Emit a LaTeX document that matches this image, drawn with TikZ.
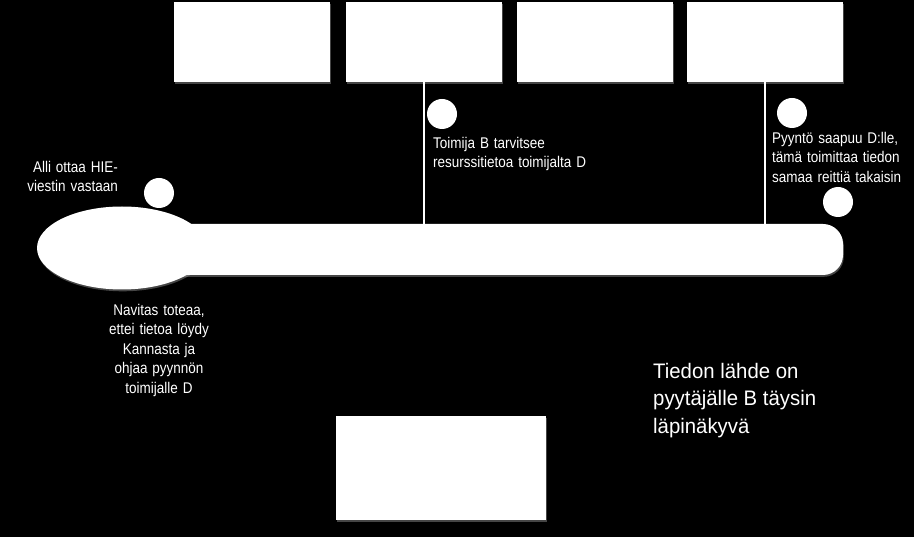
\documentclass[tikz,border=0pt]{standalone}
\usepackage{fontspec}
\setmainfont{Liberation Sans}
\newfontfamily\narrowf[FakeStretch=0.87,WordSpace=1.3]{Liberation Sans}
\newfontfamily\bigf[FakeStretch=0.97]{Liberation Sans}
\usetikzlibrary{shapes.geometric}
\begin{document}
\begin{tikzpicture}[x=1pt,y=-1pt,
  shade/.style={fill=gray!80,opacity=0.45,shift={(0.8,1.8)}},
  whitebox/.style={draw=none,fill=white,rectangle,inner sep=0pt},
  dot/.style={draw=none,fill=white,circle,minimum size=30pt,inner sep=0pt},
  link/.style={draw=white,line width=1.6pt},
  smalltext/.style={text=white,inner sep=0pt,font=\narrowf\fontsize{15.5}{19.5}\selectfont},
  bigtext/.style={text=white,inner sep=0pt,font=\bigf\fontsize{21}{27.5}\selectfont}]
\fill[black] (0,0) rectangle (914,537);
\useasboundingbox (0,0) rectangle (914,537);
% soft shadows under the shapes
\fill[shade] (174,2) rectangle (330,82);
\fill[shade] (346,2) rectangle (502,82);
\fill[shade] (517,2) rectangle (673,82);
\fill[shade] (687,2) rectangle (843,82);
\fill[shade] (336,416) rectangle (546,520);
\fill[shade,rounded corners=20pt] (150,224) rectangle (843,275);
\fill[shade] (122,248) ellipse [x radius=85,y radius=41.5];
% top boxes
\node[whitebox,minimum width=156pt,minimum height=80pt] (b1) at (252,42) {};
\node[whitebox,minimum width=156pt,minimum height=80pt] (b2) at (424,42) {};
\node[whitebox,minimum width=156pt,minimum height=80pt] (b3) at (595,42) {};
\node[whitebox,minimum width=156pt,minimum height=80pt] (b4) at (765,42) {};
% bottom box
\node[whitebox,minimum width=210pt,minimum height=104pt] (b5) at (441,468) {};
% bus
\node[whitebox,rounded corners=20pt,minimum width=693pt,minimum height=51pt] (bus) at (496.5,249.5) {};
\node[draw=none,fill=white,ellipse,minimum width=170pt,minimum height=83pt,inner sep=0pt] (hub) at (122,248) {};
% connectors
\draw[link] (b2.south) -- (b2.south |- bus.north);
\draw[link] (b4.south) -- (b4.south |- bus.north);
% dots
\node[dot] (d1) at (159,193) {};
\node[dot] (d2) at (442,114) {};
\node[dot] (d3) at (792,113) {};
\node[dot] (d4) at (838,202) {};
% texts
\node[smalltext,anchor=north east,align=right] (t1) at (118,158.35) {\strut Alli ottaa HIE-\\viestin vastaan};
\node[smalltext,anchor=north west,align=left] (t2) at (433,134.35) {\strut Toimija B tarvitsee\\resurssitietoa toimijalta D};
\node[smalltext,anchor=north west,align=left] (t3) at (772,129.65) {\strut Pyyntö saapuu D:lle,\\tämä toimittaa tiedon\\samaa reittiä takaisin};
\node[smalltext,anchor=north,align=center] (t4) at (159,301.35) {\strut Navitas toteaa,\\ettei tietoa löydy\\Kannasta ja\\ohjaa pyynnön\\toimijalle D};
\node[bigtext,anchor=north west,align=left] (t5) at (653,358.75) {\strut Tiedon lähde on\\pyytäjälle B täysin\\läpinäkyvä};
\end{tikzpicture}
\end{document}
